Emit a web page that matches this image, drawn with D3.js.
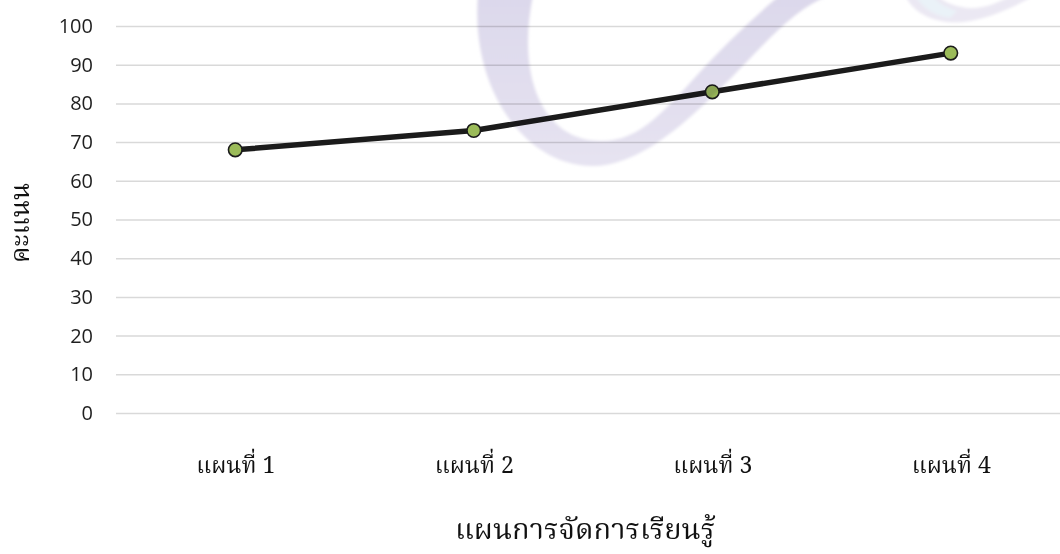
<!DOCTYPE html>
<html>
<head>
<meta charset="utf-8">
<script src="https://cdn.jsdelivr.net/npm/d3@7"></script>
<style>
  html, body { margin: 0; padding: 0; background: #ffffff; }
  svg { display: block; }
  .thai { font-family: "Noto Serif Thai", "Noto Sans Thai", "Liberation Serif", serif; }
</style>
</head>
<body>
<svg id="chart" width="1060" height="554"></svg>
<script>
// Scores for each learning plan
const categories = ["แผนที่ 1", "แผนที่ 2", "แผนที่ 3", "แผนที่ 4"];
const scores = [68, 73, 83, 93];
const yTicks = [0, 10, 20, 30, 40, 50, 60, 70, 80, 90, 100];
const xTitle = "แผนการจัดการเรียนรู้";
const yTitle = "คะแนน";

const svg = d3.select("#chart");
const plot = { left: 116, right: 1070, top: 26, bottom: 413 };

const x = d3.scalePoint()
  .domain(categories)
  .range([plot.left, plot.right])
  .padding(0.5);

const y = d3.scaleLinear()
  .domain([0, 100])
  .range([plot.bottom, plot.top]);

// Horizontal gridlines with value labels
const yAxis = svg.append("g")
  .attr("transform", `translate(${plot.left},0)`)
  .call(d3.axisLeft(y)
    .tickValues(yTicks)
    .tickSize(-(plot.right - plot.left))
    .tickPadding(23));
yAxis.select(".domain").remove();
yAxis.selectAll(".tick line")
  .attr("stroke", "#d9d9d9")
  .attr("stroke-width", 1.5);
yAxis.selectAll(".tick text")
  .attr("fill", "#1f1f1f")
  .style("font-family", "'Open Sans', sans-serif")
  .style("font-size", "20px");

// Category labels
const xAxis = svg.append("g")
  .attr("transform", `translate(0,${plot.bottom})`)
  .call(d3.axisBottom(x).tickSize(0).tickPadding(0));
xAxis.select(".domain").remove();
xAxis.selectAll(".tick text")
  .attr("class", "thai")
  .attr("dy", null)
  .attr("y", 60)
  .attr("fill", "#111")
  .style("font-size", "23px");

// Axis titles
svg.append("text")
  .attr("class", "thai")
  .attr("x", 585)
  .attr("y", 539)
  .attr("text-anchor", "middle")
  .attr("fill", "#111")
  .style("font-size", "29px")
  .text(xTitle);

svg.append("text")
  .attr("class", "thai")
  .attr("transform", "translate(29,223) rotate(-90)")
  .attr("text-anchor", "middle")
  .attr("fill", "#111")
  .style("font-size", "26px")
  .text(yTitle);

// Score line and markers
const line = d3.line()
  .x((d, i) => x(categories[i]))
  .y(d => y(d));

svg.append("path")
  .datum(scores)
  .attr("d", line)
  .attr("fill", "none")
  .attr("stroke", "#1b1b1b")
  .attr("stroke-width", 5.5)
  .attr("stroke-linejoin", "round")
  .attr("stroke-linecap", "round");

svg.selectAll("circle.pt")
  .data(scores)
  .join("circle")
  .attr("class", "pt")
  .attr("cx", (d, i) => x(categories[i]))
  .attr("cy", d => y(d))
  .attr("r", 6.8)
  .attr("fill", "#9bbb59")
  .attr("stroke", "#1b1b1b")
  .attr("stroke-width", 1.6);

// Background logo mark, blended over the chart
const defs = svg.append("defs");
defs.append("filter").attr("id", "soft")
  .append("feGaussianBlur").attr("stdDeviation", 1.8);
const grad = defs.append("linearGradient")
  .attr("id", "fade")
  .attr("x1", 0).attr("y1", 0).attr("x2", 0).attr("y2", 1);
grad.append("stop").attr("offset", "0%").attr("stop-color", "#dcd8eb");
grad.append("stop").attr("offset", "100%").attr("stop-color", "#e6e3f1");

const mark = svg.append("g")
  .style("mix-blend-mode", "multiply")
  .attr("filter", "url(#soft)");

mark.append("path")
  .attr("d", "M478,-5 C470,95 530,168 595,166 C650,164 705,105 760,48 C785,22 805,5 830,-5 L780,-5 C745,25 720,50 700,72 C665,110 640,141 602,141 C548,142 515,85 533,-5 Z")
  .attr("fill", "url(#fade)");

mark.append("path")
  .attr("d", "M905,-5 C915,18 945,27 975,20 C1000,14 1020,4 1035,-5 L1012,-5 C997,4 982,9 967,8 C952,6 942,1 937,-5 Z")
  .attr("fill", "#ebe8f3");

mark.append("path")
  .attr("d", "M915,-5 C922,8 935,16 950,18 L957,11 C945,7 936,2 933,-5 Z")
  .attr("fill", "#eaf2f8");
</script>
</body>
</html>
